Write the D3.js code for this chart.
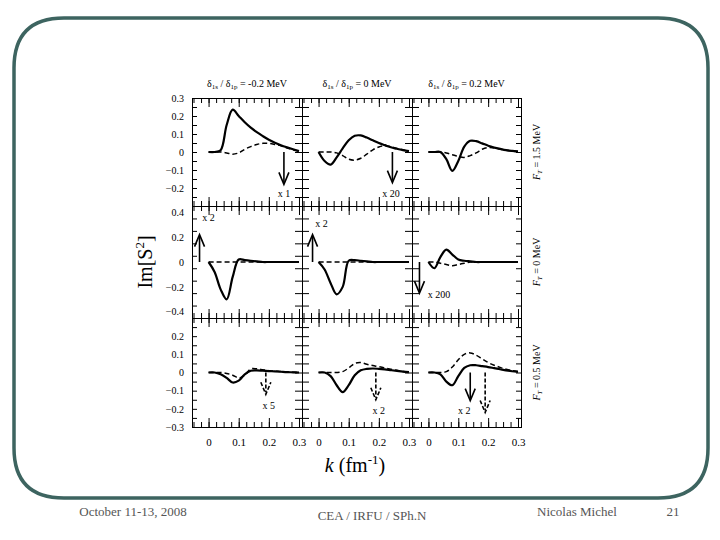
<!DOCTYPE html>
<html><head><meta charset="utf-8">
<script src="https://cdn.jsdelivr.net/npm/d3@7"></script>
<style>body{margin:0;background:#fff}svg,svg text{font-family:"Liberation Serif","DejaVu Serif",serif}</style>
</head><body><svg id="c" width="720" height="540"></svg>
<script>
const kVals=[0,0.02,0.04,0.06,0.08,0.1,0.12,0.14,0.16,0.18,0.2,0.22,0.24,0.26,0.28,0.3];
const colTitles=["-0.2 MeV","0 MeV","0.2 MeV"];
const rowTitles=["1.5 MeV","0 MeV","0.5 MeV"];
const rowDomains=[[-0.3,0.3],[-0.45,0.45],[-0.3,0.3]];
const rowTicks=[[-0.2,-0.1,0,0.1,0.2,0.3],[-0.4,-0.2,0,0.2,0.4],[-0.3,-0.2,-0.1,0,0.1,0.2]];
const xTicks=[0,0.1,0.2,0.3];
const solid=[
 [[0,0,0.01,0.15,0.235,0.2,0.165,0.135,0.11,0.088,0.068,0.052,0.038,0.026,0.015,0.005],
  [0,-0.05,-0.07,-0.03,0.02,0.065,0.09,0.092,0.08,0.065,0.05,0.038,0.026,0.018,0.01,0.005],
  [0,0,0,-0.04,-0.105,-0.05,0.03,0.062,0.06,0.048,0.035,0.025,0.017,0.01,0.006,0.003]],
 [[0,-0.08,-0.22,-0.3,-0.12,0.02,0.015,0.01,0.005,0,0,0,0,0,0,0],
  [0,-0.06,-0.17,-0.26,-0.2,0.01,0.015,0.01,0.005,0,0,0,0,0,0,0],
  [0,-0.05,0.04,0.1,0.06,0.02,0.01,0.005,0,0,0,0,0,0,0,0]],
 [[0,0,-0.01,-0.03,-0.055,-0.045,-0.01,0.01,0.012,0.01,0.008,0.006,0.004,0.002,0.001,0],
  [0,0,-0.02,-0.07,-0.108,-0.07,-0.015,0.012,0.02,0.022,0.02,0.017,0.013,0.009,0.005,0.002],
  [0,0,-0.01,-0.05,-0.07,-0.02,0.025,0.04,0.04,0.035,0.03,0.024,0.018,0.012,0.007,0.003]]];
const dashed=[
 [[0,0,0,-0.005,-0.012,-0.005,0.015,0.03,0.042,0.048,0.048,0.042,0.034,0.022,0.012,0.005],
  [0,0,0,-0.005,-0.02,-0.04,-0.045,-0.035,-0.012,0.012,0.028,0.035,0.03,0.02,0.012,0.005],
  [0,0,0,-0.005,-0.015,-0.025,-0.03,-0.02,-0.005,0.015,0.025,0.022,0.016,0.01,0.005,0.002]],
 [[0,0,0,0,0,0,0,0,0,0,0,0,0,0,0,0],
  [0,0,0,0,0,0,0,0,0,0,0,0,0,0,0,0],
  [0,0,-0.01,-0.02,-0.03,-0.02,-0.01,0,0,0,0,0,0,0,0,0]],
 [[0,0,0,-0.005,-0.015,-0.03,-0.015,0.02,0.02,0.015,0.01,0.008,0.005,0.003,0.001,0],
  [0,0,0,0,0.005,0.025,0.05,0.055,0.045,0.038,0.032,0.025,0.018,0.012,0.006,0.003],
  [0,0,0,0.005,0.03,0.07,0.1,0.108,0.095,0.075,0.055,0.04,0.028,0.018,0.01,0.005]]];
const arrows=[
 [0,0,0.25,-0.18,false,"x 1",0.25,-0.25],
 [0,1,0.245,-0.17,false,"x 20",0.24,-0.25],
 [1,0,-0.03,0.22,false,"x 2",0.0,0.33],
 [1,1,-0.02,0.22,false,"x 2",0.01,0.28],
 [1,2,-0.03,-0.25,false,"x 200",0.035,-0.29],
 [2,0,0.19,-0.12,true,"x 5",0.2,-0.2],
 [2,1,0.19,-0.15,true,"x 2",0.2,-0.23],
 [2,2,0.14,-0.155,false,"x 2",0.12,-0.23],
 [2,2,0.19,-0.22,true,"",0,0]];

const svg=d3.select("#c");
svg.append("path").attr("d","M64,18 H658 Q708,18 708,68 V448 Q708,498 658,498 H64 Q14,498 14,448 V68 Q14,18 64,18Z")
 .attr("fill","none").attr("stroke","#3d6460").attr("stroke-width",3.5);
const colX=[192,302,412,521], rowY=[98,206,318,427];
const arrowHead=(g,x,y0,y1,dash)=>{
  const dir=y1>y0?1:-1;
  g.append("line").attr("x1",x).attr("x2",x).attr("y1",y0).attr("y2",y1-dir*2).attr("stroke","#000").attr("stroke-width",1.6).attr("stroke-dasharray",dash?"4,2":null);
  g.append("path").attr("d",`M${x-5},${y1-dir*12} L${x},${y1} L${x+5},${y1-dir*12}`).attr("fill","none").attr("stroke","#000").attr("stroke-width",1.6).attr("stroke-dasharray",dash?"4,2":null);
};
for(let r=0;r<3;r++)for(let c=0;c<3;c++){
  const x=d3.scaleLinear().domain([-0.055,0.31]).range([colX[c],colX[c+1]]);
  const y=d3.scaleLinear().domain(rowDomains[r]).range([rowY[r+1],rowY[r]]);
  const g=svg.append("g");
  const minorX=d3.range(-0.05,0.31,0.025);
  g.append("g").attr("transform",`translate(0,${rowY[r]})`).call(d3.axisBottom(x).tickValues(minorX).tickSize(5).tickFormat(""));
  g.append("g").attr("transform",`translate(0,${rowY[r]})`).call(d3.axisBottom(x).tickValues(xTicks).tickSize(9).tickFormat(""));
  g.append("g").attr("transform",`translate(0,${rowY[r+1]})`).call(d3.axisTop(x).tickValues(minorX).tickSize(5).tickFormat(""));
  g.append("g").attr("transform",`translate(0,${rowY[r+1]})`).call(d3.axisTop(x).tickValues(xTicks).tickSize(9).tickFormat(""));
  const yMinor=d3.range(rowDomains[r][0],rowDomains[r][1]+0.001,r==1?0.1:0.05);
  g.append("g").attr("transform",`translate(${colX[c]},0)`).call(d3.axisRight(y).tickValues(yMinor).tickSize(c==0?5:7).tickFormat(""));
  g.append("g").attr("transform",`translate(${colX[c+1]},0)`).call(d3.axisLeft(y).tickValues(yMinor).tickSize(c==2?5:7).tickFormat(""));
  if(c==0) g.append("g").attr("transform",`translate(${colX[0]},0)`).call(d3.axisLeft(y).tickValues(rowTicks[r]).tickSize(0).tickPadding(8).tickFormat(d=>d==0?"0":d3.format(".1f")(d)))
    .call(a=>{a.select(".domain").remove();a.attr("font-family",null);a.selectAll("text").attr("font-size",10);});
  g.selectAll(".domain").attr("stroke-width",1);
  if(r==2) g.append("g").attr("transform",`translate(0,${rowY[3]+8})`).call(d3.axisBottom(x).tickValues(xTicks).tickSize(0).tickFormat(d=>d==0?"0":d3.format(".1f")(d)))
    .call(a=>{a.select(".domain").remove();a.attr("font-family",null);a.selectAll("text").attr("font-size",11);});
  const line=d3.line().x((d,i)=>x(kVals[i])).y(d=>y(d)).curve(d3.curveCatmullRom);
  g.append("path").attr("d",line(dashed[r][c])).attr("fill","none").attr("stroke","#000").attr("stroke-width",1.5).attr("stroke-dasharray","5,3");
  g.append("path").attr("d",line(solid[r][c])).attr("fill","none").attr("stroke","#000").attr("stroke-width",2.2);
  arrows.filter(a=>a[0]==r&&a[1]==c).forEach(a=>{
    arrowHead(g,x(a[2]),y(0),y(a[3]),a[4]);
    if(a[5]) g.append("text").attr("x",x(a[6])).attr("y",y(a[7])).attr("text-anchor","middle").attr("font-size",10).text(a[5]);
  });
}
colTitles.forEach((t,i)=>{
  const tx=svg.append("text").attr("x",(colX[i]+colX[i+1])/2).attr("y",87).attr("text-anchor","middle").attr("font-size",10);
  tx.append("tspan").text("δ");tx.append("tspan").attr("font-size",7).attr("dy",2).text("1s");
  tx.append("tspan").attr("dy",-2).text(" / δ");tx.append("tspan").attr("font-size",7).attr("dy",2).text("1p");
  tx.append("tspan").attr("dy",-2).text(" = "+t);
});
rowTitles.forEach((t,i)=>{
  const tx=svg.append("text").attr("transform",`translate(540,${(rowY[i]+rowY[i+1])/2}) rotate(-90)`).attr("text-anchor","middle").attr("font-size",10);
  tx.append("tspan").attr("font-style","italic").text("F");tx.append("tspan").attr("font-size",7).attr("dy",2).attr("font-style","italic").text("T");
  tx.append("tspan").attr("dy",-2).text(" = "+t);
});
const yl=svg.append("text").attr("transform","translate(152,262) rotate(-90)").attr("text-anchor","middle").attr("font-size",20);
yl.append("tspan").text("Im[S");yl.append("tspan").attr("font-size",13).attr("dy",-8).text("2");yl.append("tspan").attr("dy",8).text("]");
const xl=svg.append("text").attr("x",355).attr("y",472).attr("text-anchor","middle").attr("font-size",20);
xl.append("tspan").attr("font-style","italic").text("k");xl.append("tspan").text(" (fm");
xl.append("tspan").attr("font-size",13).attr("dy",-8).text("-1");xl.append("tspan").attr("dy",8).text(")");
const foot=[["October 11-13, 2008",133,516],["CEA / IRFU / SPh.N",372,520],["Nicolas Michel",577,516],["21",673,516]];
foot.forEach(f=>svg.append("text").attr("x",f[1]).attr("y",f[2]).attr("text-anchor","middle").attr("font-size",13).attr("fill","#555").text(f[0]));
</script></body></html>
